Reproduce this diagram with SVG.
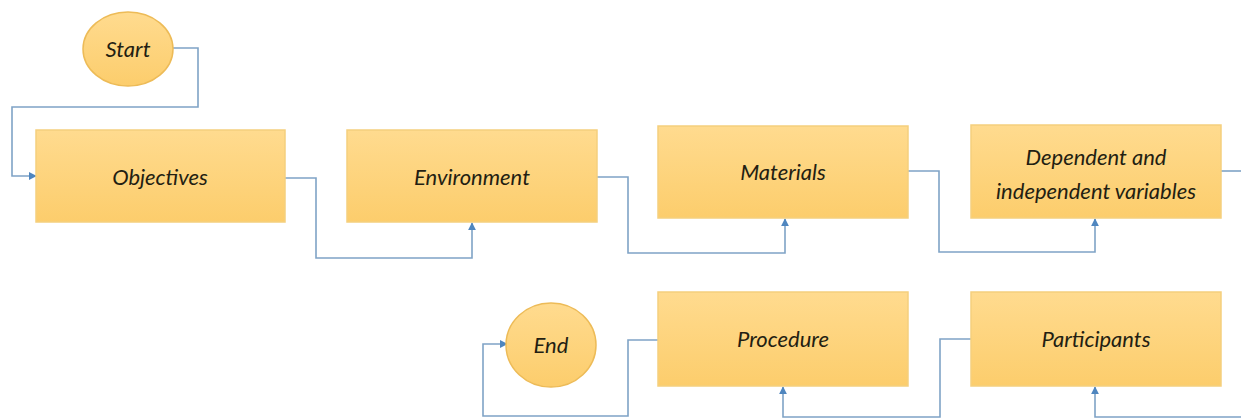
<svg xmlns="http://www.w3.org/2000/svg" width="1241" height="420" viewBox="0 0 1241 420">
  <defs>
    <linearGradient id="boxFill" x1="0" y1="0" x2="0" y2="1">
      <stop offset="0" stop-color="#FFDB8F"/>
      <stop offset="1" stop-color="#FCCD6C"/>
    </linearGradient>
    <marker id="arrow" viewBox="0 0 10 10" refX="9" refY="5" markerWidth="8" markerHeight="8" orient="auto" markerUnits="userSpaceOnUse">
      <path d="M0,0 L10,5 L0,10 z" fill="#4F86BF"/>
    </marker>
  </defs>
  <style>
    .box { fill: url(#boxFill); stroke: #F5CF7E; stroke-width: 1.5; }
    .oval { fill: url(#boxFill); stroke: #EDBB57; stroke-width: 1.5; }
    .label { font-family: Lato, "Open Sans", sans-serif; font-style: italic; font-size: 22px; fill: #231E12; text-anchor: middle; }
    .wire { fill: none; stroke: #7FA3C6; stroke-width: 1.6; }
    .wire.end { marker-end: url(#arrow); }
  </style>
  <rect width="1241" height="420" fill="#FFFFFF"/>

  <!-- flow connectors, drawn beneath the nodes -->
  <g id="connectors">
    <path class="wire end" d="M173,48 H198 V107 H12 V176 H36"/>
    <path class="wire end" d="M285,178 H316 V258 H472 V223"/>
    <path class="wire end" d="M597,177 H628 V253 H785 V219"/>
    <path class="wire end" d="M908,171 H939 V252 H1095 V219"/>
    <path class="wire" d="M1221,171 H1245"/>
    <path class="wire end" d="M1245,417 H1095 V387"/>
    <path class="wire end" d="M971,339 H940 V417 H783 V387"/>
    <path class="wire end" d="M658,340 H628 V416 H483 V344 H507"/>
  </g>

  <g id="start">
    <ellipse class="oval" cx="128" cy="49" rx="45" ry="37"/>
    <text class="label" x="128" y="57">Start</text>
  </g>
  <g id="objectives">
    <rect class="box" x="36" y="130" width="249" height="92"/>
    <text class="label" x="160" y="185">Objectives</text>
  </g>
  <g id="environment">
    <rect class="box" x="347" y="130" width="250" height="92"/>
    <text class="label" x="472" y="185">Environment</text>
  </g>
  <g id="materials">
    <rect class="box" x="658" y="126" width="250" height="92"/>
    <text class="label" x="783" y="180">Materials</text>
  </g>
  <g id="variables">
    <rect class="box" x="971" y="125" width="250" height="93"/>
    <text class="label" x="1096" y="165">Dependent and</text>
    <text class="label" x="1096" y="199">independent variables</text>
  </g>
  <g id="participants">
    <rect class="box" x="971" y="292" width="250" height="94"/>
    <text class="label" x="1096" y="347">Participants</text>
  </g>
  <g id="procedure">
    <rect class="box" x="658" y="292" width="250" height="94"/>
    <text class="label" x="783" y="347">Procedure</text>
  </g>
  <g id="end">
    <ellipse class="oval" cx="551" cy="345" rx="45" ry="42"/>
    <text class="label" x="551" y="353">End</text>
  </g>
</svg>
